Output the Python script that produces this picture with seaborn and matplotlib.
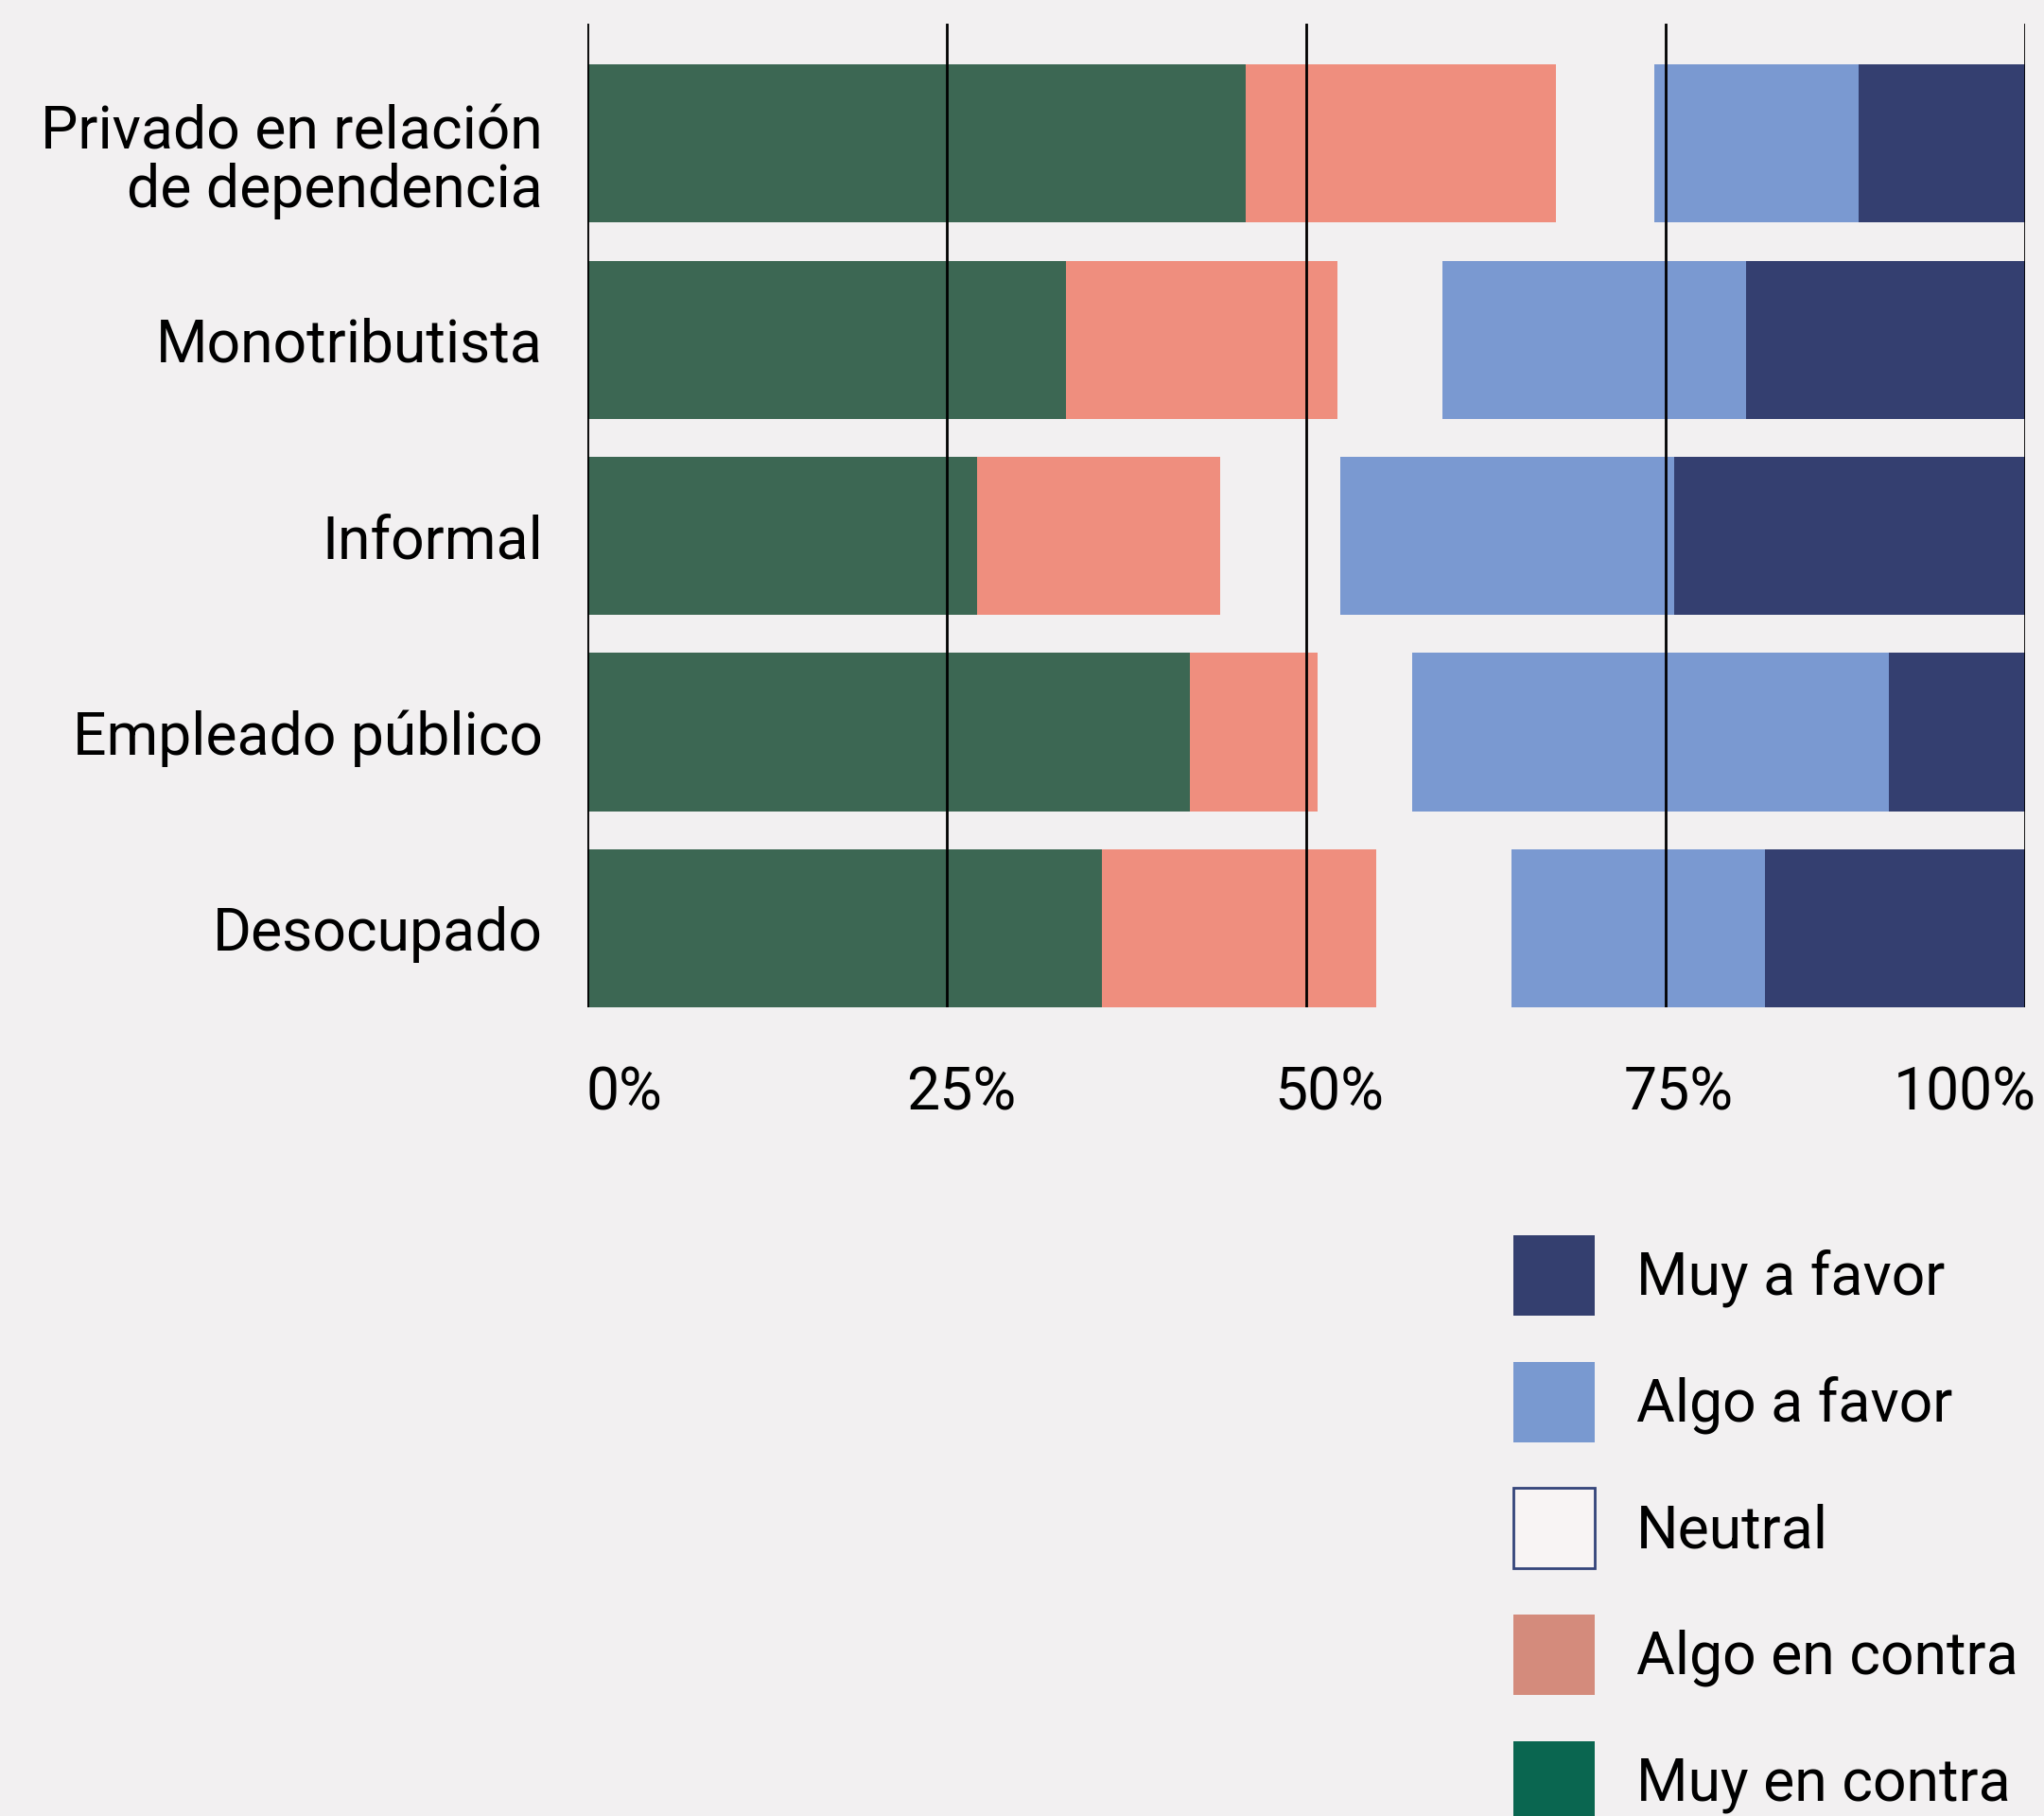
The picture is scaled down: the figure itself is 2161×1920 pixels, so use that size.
import matplotlib
matplotlib.use("Agg")
import matplotlib.pyplot as plt
import matplotlib.patches as mpatches
import matplotlib.transforms as mtransforms
import seaborn as sns
import numpy as np
import pandas as pd

# ---- data ----
categories = ["Privado en relación\nde dependencia", "Monotributista", "Informal",
              "Empleado público", "Desocupado"]
muy_en_contra = [45.8, 33.3, 27.1, 41.9, 35.8]
algo_en_contra = [21.6, 18.9, 16.9, 8.9, 19.1]
neutral = [6.8, 7.3, 8.4, 6.6, 9.4]
algo_a_favor = [14.2, 21.1, 23.2, 33.1, 17.6]
muy_a_favor = [11.6, 19.4, 24.4, 9.5, 18.1]
tick_values = [0, 25, 50, 75, 100]
tick_labels = ["0%", "25%", "50%", "75%", "100%"]
legend_labels = ["Muy a favor", "Algo a favor", "Neutral", "Algo en contra", "Muy en contra"]

BG = "#f2f0f1"
bar_colors = {
    "Muy en contra": "#3c6753",
    "Algo en contra": "#ef8e7e",
    "Neutral": BG,
    "Algo a favor": "#7a99d1",
    "Muy a favor": "#343f70",
}
legend_face = {
    "Muy a favor": "#343f6f",
    "Algo a favor": "#7999d0",
    "Neutral": "#f8f4f4",
    "Algo en contra": "#d48b7c",
    "Muy en contra": "#0a6650",
}

sns.set_theme(style="white")
plt.rcParams["font.family"] = ["Roboto", "DejaVu Sans"]
plt.rcParams["text.color"] = "black"
FS = 45

df = pd.DataFrame({
    "cat": categories,
    "Muy en contra": muy_en_contra,
    "Algo en contra": algo_en_contra,
    "Neutral": neutral,
    "Algo a favor": algo_a_favor,
    "Muy a favor": muy_a_favor,
})
order = ["Muy en contra", "Algo en contra", "Neutral", "Algo a favor", "Muy a favor"]
cum = df[order].cumsum(axis=1)

fig = plt.figure(figsize=(21.61, 19.20), dpi=100, facecolor=BG)
ax = fig.add_axes([621 / 2161, 1 - 1065 / 1920, (2141 - 621) / 2161, (1065 - 25) / 1920])
ax.set_facecolor(BG)

for key in reversed(order):
    sns.barplot(x=cum[key], y=df["cat"], orient="h", color=bar_colors[key],
                saturation=1, width=0.805, ax=ax, linewidth=0, zorder=2)

ax.set_xlim(0, 100)
ax.set_ylim(4.4025, -0.61)
ax.set_xlabel("")
ax.set_ylabel("")
for s in ax.spines.values():
    s.set_visible(False)

for v in tick_values:
    ax.axvline(v, color="black", lw=2.0, zorder=5)

ax.set_xticks(tick_values)
ax.set_xticklabels(tick_labels, fontsize=FS, color="black")
ax.tick_params(axis="x", length=0, pad=44)
ax.tick_params(axis="y", length=0, pad=34, labelsize=FS, labelcolor="black")
for lab in ax.get_yticklabels():
    lab.set_linespacing(1.04)
    if "\n" in lab.get_text():
        lab.set_transform(lab.get_transform() + mtransforms.ScaledTranslation(0, -0.12, fig.dpi_scale_trans))

xl = ax.get_xticklabels()
offsets_px = [-2, 15, 24, 14, 12]
has = ["left", "center", "center", "center", "right"]
for lab, ha, dx in zip(xl, has, offsets_px):
    lab.set_ha(ha)
    lab.set_transform(lab.get_transform() + mtransforms.ScaledTranslation(dx / 100, 0, fig.dpi_scale_trans))

handles = []
for name in legend_labels:
    ec = "#34447a" if name == "Neutral" else legend_face[name]
    handles.append(mpatches.Patch(facecolor=legend_face[name], edgecolor=ec,
                                  linewidth=2 if name == "Neutral" else 0, label=name))
leg = fig.legend(handles=handles, loc="upper left",
                 bbox_to_anchor=(1600 / 2161, 1 - 1306 / 1920),
                 frameon=False, fontsize=FS, handlelength=1.376, handleheight=1.715,
                 handletextpad=0.7, labelspacing=0.78, borderpad=0, borderaxespad=0,
                 labelcolor="black")

fig.savefig("out.png", dpi=100, facecolor=BG)
